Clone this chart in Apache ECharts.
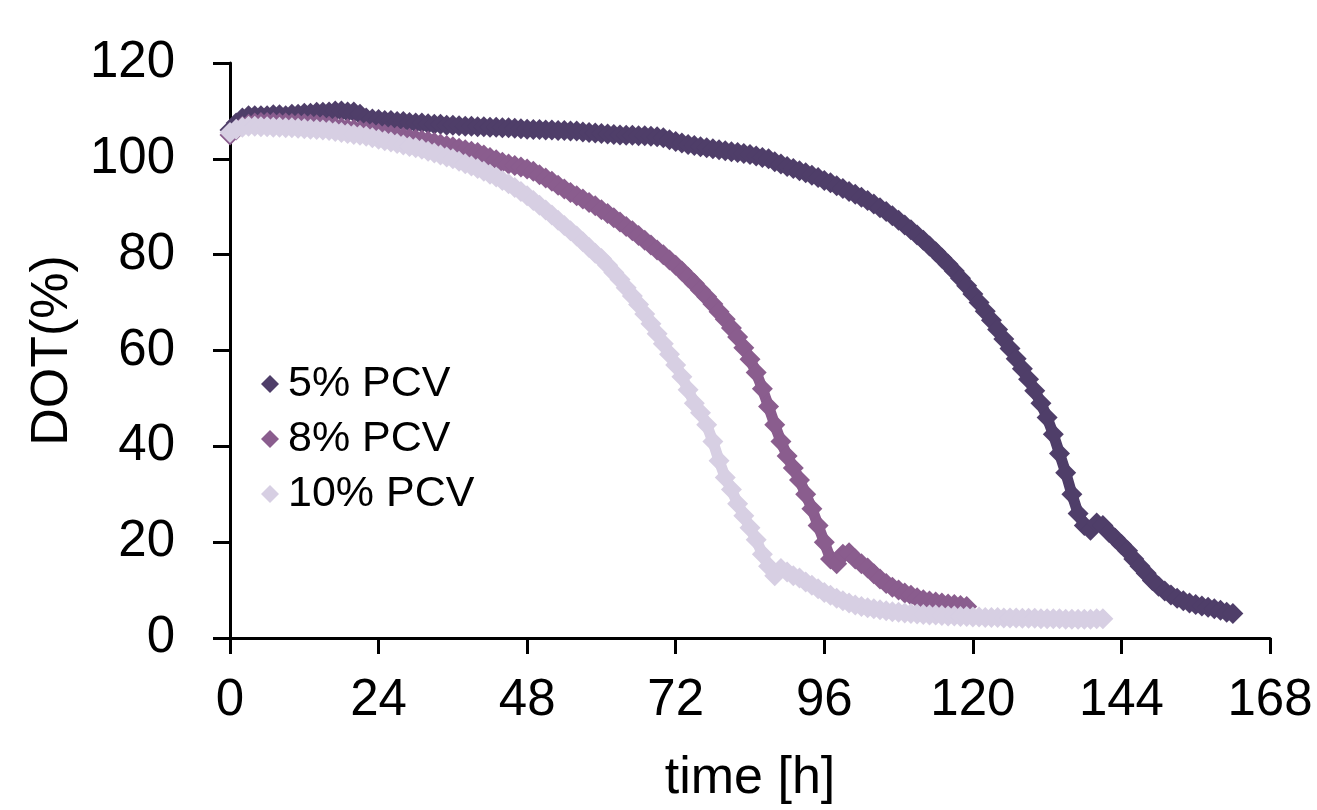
<!DOCTYPE html>
<html>
<head>
<meta charset="utf-8">
<script src="https://cdn.jsdelivr.net/npm/echarts@6/dist/echarts.min.js"></script>
<style>
  html, body { margin: 0; padding: 0; background: #ffffff; }
  #chart { width: 1317px; height: 810px; }
</style>
</head>
<body>
<div id="chart"></div>
<script>
// Dissolved oxygen tension (DOT, %) over culture time, one reading per hour.
const seriesNames = ['5% PCV', '8% PCV', '10% PCV'];

const dot5 = [
  106, 107.5, 108.5, 109, 109, 109, 109, 109.2, 109.2, 109,
  109.3, 109.3, 109.5, 109.5, 109.7, 109.7, 109.8, 110, 110, 109.8,
  109.8, 109.3, 108.5, 108.3, 108.2, 108, 108, 107.8, 107.8, 107.6,
  107.5, 107.5, 107.3, 107.2, 107.2, 107, 107, 106.9, 106.8, 106.8,
  106.7, 106.7, 106.6, 106.6, 106.5, 106.5, 106.4, 106.3, 106.2, 106.1,
  106.1, 106, 106, 105.9, 105.9, 105.8, 105.8, 105.6, 105.5, 105.4,
  105.3, 105.2, 105.1, 105, 104.9, 104.9, 104.8, 104.8, 104.7, 104.6,
  104.4, 104, 103.6, 103.3, 103, 102.8, 102.5, 102.3, 102.1, 101.9,
  101.7, 101.5, 101.3, 101.1, 100.9, 100.6, 100.3, 100, 99.4, 98.9,
  98.4, 98, 97.5, 97.1, 96.6, 96.1, 95.5, 95, 94.4, 93.8,
  93.2, 92.6, 92, 91.3, 90.6, 89.8, 89, 88.1, 87.2, 86.2,
  85.2, 84.1, 83, 81.8, 80.6, 79.3, 78, 76.6, 75.1, 73.5,
  71.8, 70, 68.2, 66.3, 64.4, 62.4, 60.4, 58.3, 56.2, 54,
  51.6, 49, 46, 42.5, 38.5, 34.5, 30, 26, 23.5, 22.5,
  24, 23.5, 22, 20.8, 19.5, 18.2, 16.5, 15, 13.5, 12,
  10.8, 9.8, 9, 8.3, 7.8, 7.3, 7, 6.7, 6.4, 6.1,
  5.8, 5.4, 5.1
];

const dot8 = [
  105, 106, 106.8, 107.2, 107.5, 107.6, 107.6, 107.6, 107.5, 107.5,
  107.4, 107.4, 107.3, 107.2, 107.1, 107, 106.8, 106.7, 106.5, 106.3,
  106.1, 105.9, 105.7, 105.5, 105.3, 105.1, 104.9, 104.7, 104.5, 104.3,
  104.1, 103.9, 103.7, 103.4, 103.1, 102.8, 102.5, 102.2, 101.9, 101.6,
  101.3, 100.8, 100.3, 99.8, 99.3, 98.9, 98.6, 98.3, 97.9, 97.4,
  96.7, 96, 95.3, 94.5, 93.7, 93, 92.3, 91.6, 90.9, 90.2,
  89.4, 88.6, 87.7, 86.8, 85.9, 85, 84, 83, 82, 81,
  80, 78.9, 77.8, 76.6, 75.3, 74, 72.6, 71.2, 69.7, 68.1,
  66.5, 64.7, 62.8, 60.6, 58.2, 55.4, 52, 48.3, 44.5, 41,
  38, 35.5, 33, 30, 27, 23.5, 20, 16.5, 15.5, 17.5,
  17.8, 16.5, 15.5, 14.6, 13.4, 12.3, 11.4, 10.6, 10, 9.4,
  8.9, 8.4, 8, 7.7, 7.5, 7.3, 7.1, 7, 6.8, 6.6
];

const dot10 = [
  105.5, 106.2, 106.6, 106.8, 106.8, 106.7, 106.7, 106.6, 106.6, 106.5,
  106.5, 106.4, 106.3, 106.2, 106.1, 106, 105.9, 105.7, 105.5, 105.3,
  105.1, 104.9, 104.7, 104.4, 104.1, 103.8, 103.5, 103.2, 102.9, 102.6,
  102.3, 102, 101.6, 101.2, 100.8, 100.4, 100, 99.5, 99, 98.5,
  98, 97.4, 96.8, 96.2, 95.5, 94.8, 94, 93.2, 92.3, 91.3,
  90.3, 89.3, 88.3, 87.2, 86.1, 85, 83.9, 82.7, 81.5, 80.3,
  79.2, 77.8, 76.3, 74.8, 73.1, 71.4, 69.6, 67.6, 65.6, 63.5,
  61.4, 59.2, 57, 54.5, 51.8, 49, 47, 44.5, 41, 37,
  33.5, 31, 28, 25.5, 23, 20.5, 17.5, 15, 13, 14.5,
  13.8, 13, 12.5, 11.7, 11, 10.3, 9.5, 8.9, 8.3, 7.8,
  7.3, 6.9, 6.6, 6.3, 6.1, 5.9, 5.7, 5.5, 5.4, 5.2,
  5.1, 5, 4.9, 4.8, 4.8, 4.7, 4.6, 4.6, 4.5, 4.5,
  4.4, 4.4, 4.3, 4.3, 4.3, 4.2, 4.2, 4.2, 4.1, 4.1,
  4.1, 4, 4, 4, 4, 3.9, 3.9, 3.9, 3.9, 3.9,
  4, 4
];

const xTicks = [0, 24, 48, 72, 96, 120, 144, 168];
const yTicks = [0, 20, 40, 60, 80, 100, 120];

const colors = ['#4f3e69', '#8a5d8e', '#d7cfe3'];
const FONT = "'Liberation Sans', Arial, sans-serif";

// Pair each reading with its hour (readings are hourly, starting at 0 h).
function toPoints(values) {
  return values.map((v, hour) => [hour, v]);
}

const chart = echarts.init(document.getElementById('chart'), null, { renderer: 'canvas' });

const axisLineStyle = { color: '#000000', width: 3 };

chart.setOption({
  animation: false,
  backgroundColor: '#ffffff',
  color: colors,
  grid: { left: 230, right: 47, top: 63, bottom: 168 },
  legend: {
    orient: 'vertical',
    left: 256,
    top: 357,
    itemWidth: 18,
    itemHeight: 18,
    itemGap: 11,
    icon: 'diamond',
    data: seriesNames,
    textStyle: {
      fontFamily: FONT,
      fontSize: 43,
      lineHeight: 44,
      color: '#000000',
      padding: [0, 0, 0, 4]
    }
  },
  xAxis: {
    type: 'value',
    min: xTicks[0],
    max: xTicks[xTicks.length - 1],
    interval: xTicks[1] - xTicks[0],
    name: 'time [h]',
    nameLocation: 'middle',
    nameGap: 115,
    nameTextStyle: { fontFamily: FONT, fontSize: 52, color: '#000000' },
    axisLine: { show: true, onZero: false, lineStyle: axisLineStyle },
    axisTick: { show: true, inside: false, length: 16, lineStyle: axisLineStyle },
    axisLabel: { fontFamily: FONT, fontSize: 51, color: '#000000', margin: 37 },
    splitLine: { show: false }
  },
  yAxis: {
    type: 'value',
    min: yTicks[0],
    max: yTicks[yTicks.length - 1],
    interval: yTicks[1] - yTicks[0],
    name: 'DOT(%)',
    nameLocation: 'middle',
    nameGap: 144,
    nameTextStyle: { fontFamily: FONT, fontSize: 52, color: '#000000' },
    axisLine: { show: true, lineStyle: axisLineStyle },
    axisTick: { show: true, inside: false, length: 17, lineStyle: axisLineStyle },
    axisLabel: { fontFamily: FONT, fontSize: 51, color: '#000000', margin: 55 },
    splitLine: { show: false }
  },
  series: [dot5, dot8, dot10].map((values, i) => ({
    name: seriesNames[i],
    type: 'line',
    data: toPoints(values),
    symbol: 'diamond',
    symbolSize: 21,
    showAllSymbol: true,
    lineStyle: { width: 11, color: colors[i] },
    itemStyle: { color: colors[i] },
    emphasis: { disabled: true },
    z: 2 + i
  }))
});
</script>
</body>
</html>
